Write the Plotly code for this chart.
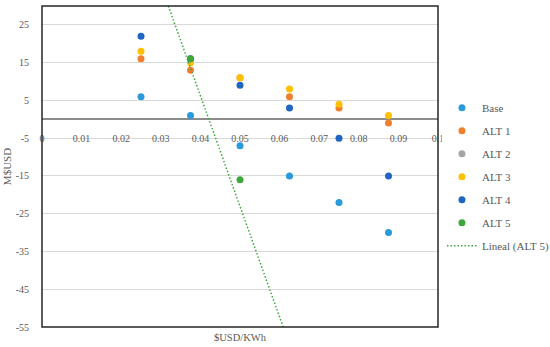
import plotly.graph_objects as go

# ---- data ----
x_vals = [0.025, 0.0375, 0.05, 0.0625, 0.075, 0.0875]
base = [6, 1, -7, -15, -22, -30]
alt1 = [16, 13, 11, 6, 3, -1]
alt2 = [None, None, None, None, None, None]
alt3 = [18, 15, 11, 8, 4, 1]
alt4 = [22, 16, 9, 3, -5, -15]
alt5_x = [0.0375, 0.05]
alt5 = [16, -16]
trend_x = [0.0319, 0.0609]
trend_y = [30, -55]

series_names = ["Base", "ALT 1", "ALT 2", "ALT 3", "ALT 4", "ALT 5"]
colors = ["#2A9BDA", "#F07E2C", "#A5A5A5", "#FFC000", "#1F66C2", "#3FA63C"]

y_ticks = [25, 15, 5, -5, -15, -25, -35, -45, -55]
y_ticktext = ["25", "15", "5", "-5", "-15", "-25", "-35", "-45", "-55"]
x_ticks = [0, 0.01, 0.02, 0.03, 0.04, 0.05, 0.06, 0.07, 0.08, 0.09, 0.1]
x_ticktext = ["0", "0.01", "0.02", "0.03", "0.04", "0.05", "0.06", "0.07", "0.08", "0.09", "0.1"]

FONT = "Liberation Serif"

fig = go.Figure()
data = [(x_vals, base), (x_vals, alt1), (x_vals, alt2), (x_vals, alt3), (x_vals, alt4), (alt5_x, alt5)]
for i, (xs, ys) in enumerate(data):
    fig.add_trace(go.Scatter(
        x=xs, y=ys, mode="markers", name=series_names[i],
        legendgroup=series_names[i],
        marker=dict(color=colors[i], size=7),
    ))
fig.add_trace(go.Scatter(
    x=trend_x, y=trend_y, mode="lines", name="Lineal (ALT 5)",
    legendgroup="trend",
    line=dict(color="#3FA63C", width=1.5, dash="1.5px,2px"),
))

y0_frac = (0 - (-55)) / (30 - (-55))

fig.update_layout(
    width=550, height=347,
    margin=dict(l=42, r=112, t=6, b=20, autoexpand=False),
    paper_bgcolor="white", plot_bgcolor="white",
    font=dict(family=FONT, size=10, color="#595959"),
    showlegend=True,
    legend=dict(x=1.01, y=0.728, xanchor="left", yanchor="top",
                font=dict(family=FONT, size=11, color="#595959"),
                traceorder="grouped", tracegroupgap=4, itemwidth=30),
    xaxis=dict(range=[0, 0.1], tickvals=x_ticks, ticktext=x_ticktext,
               showgrid=False, zeroline=False, showline=False,
               anchor="free", position=y0_frac, ticks="", automargin=False,
               ticklabelstandoff=12, tickfont=dict(size=10, color="#595959")),
    yaxis=dict(range=[-55, 30], tickvals=y_ticks, ticktext=y_ticktext,
               showgrid=True, gridcolor="#D9D9D9", gridwidth=1,
               zeroline=True, zerolinecolor="#8C8C8C", zerolinewidth=1.5,
               showline=False, ticks="", ticklabelstandoff=12, automargin=False,
               tickfont=dict(size=10, color="#595959"),
               title=dict(text="M$USD", font=dict(size=11, color="#595959"), standoff=1)),
    annotations=[dict(text="$USD/KWh", xref="paper", yref="paper", x=0.5, y=0,
                      yshift=-10, xanchor="center", yanchor="middle", showarrow=False,
                      font=dict(family=FONT, size=10.5, color="#595959"))],
    shapes=[dict(type="rect", xref="paper", yref="paper", x0=0, x1=1, y0=0, y1=1,
                 line=dict(color="#262626", width=1.5), layer="above")],
)

fig.write_html("out.html", config={"displayModeBar": False},
               post_script="document.body.style.margin='0';")
